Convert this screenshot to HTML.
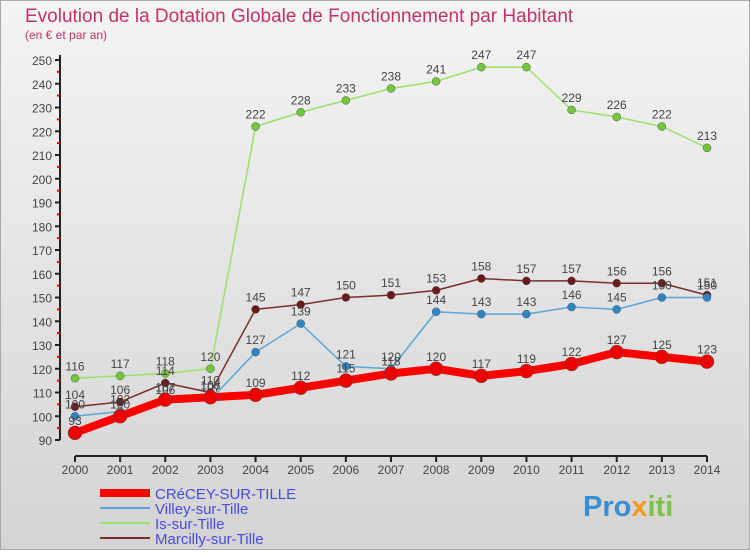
<!DOCTYPE html>
<html><head><meta charset="utf-8"><style>
body{margin:0;width:750px;height:550px;overflow:hidden;font-family:"Liberation Sans",sans-serif}
</style></head><body>
<svg width="750" height="550" xmlns="http://www.w3.org/2000/svg">
<defs><linearGradient id="bg" x1="0" y1="0" x2="0" y2="1"><stop offset="0" stop-color="#f4f4f4"/><stop offset="1" stop-color="#d4d4d4"/></linearGradient></defs>
<rect x="0.5" y="0.5" width="749" height="549" fill="url(#bg)" stroke="#aaa"/>
<text x="25" y="22" font-size="19" fill="#c2336b">Evolution de la Dotation Globale de Fonctionnement par Habitant</text>
<text x="25" y="39" font-size="12" fill="#c2336b">(en € et par an)</text>
<g id="axes"></g><g id="series"></g><g id="legend"></g>
<text x="583" y="516" font-size="29" font-weight="bold" fill="#3a8fd0">Pro<tspan fill="#f29a1e">x</tspan><tspan fill="#7dc242">iti</tspan></text>
</svg>
<script>
const years=[2000,2001,2002,2003,2004,2005,2006,2007,2008,2009,2010,2011,2012,2013,2014];
const crecey=[93,100,107,108,109,112,115,118,120,117,119,122,127,125,123];
const villey=[100,102,106,107,127,139,121,120,144,143,143,146,145,150,150];
const isSur=[116,117,118,120,222,228,233,238,241,247,247,229,226,222,213];
const marcilly=[104,106,114,110,145,147,150,151,153,158,157,157,156,156,151];
const yTicks=[90,100,110,120,130,140,150,160,170,180,190,200,210,220,230,240,250];
const NS="http://www.w3.org/2000/svg";
const X=y=>75+(y-2000)*(707-75)/14;
const Y=v=>440-(v-90)*380/160;
function mk(t,a,p){const e=document.createElementNS(NS,t);for(const k in a)e.setAttribute(k,a[k]);p.appendChild(e);return e;}
const ax=document.getElementById('axes');
let l=mk('line',{x1:60,y1:Y(250)-5,x2:60,y2:440,stroke:'#222','stroke-width':2},ax);


l=mk('line',{x1:75,y1:456,x2:707,y2:456,stroke:'#222','stroke-width':2},ax);


yTicks.forEach(v=>{
 mk('line',{x1:55,y1:Y(v),x2:60,y2:Y(v),stroke:'#222','stroke-width':2},ax);
 if(v<250)mk('line',{x1:57,y1:Y(v+5),x2:60,y2:Y(v+5),stroke:'#e00','stroke-width':2},ax);
 const t=mk('text',{x:52,y:Y(v)+5,'text-anchor':'end','font-size':12,fill:'#444'},ax);t.textContent=v;
 
 
});
years.forEach(y=>{
 mk('line',{x1:X(y),y1:456,x2:X(y),y2:462,stroke:'#222','stroke-width':2},ax);
 const t=mk('text',{x:X(y),y:474,'text-anchor':'middle','font-size':12,fill:'#444'},ax);t.textContent=y;
 
 
});
const sg=document.getElementById('series');
const defs=[
 {d:isSur,c:'#9be06a',dot:'#72c83a',w:1.5,r:4,n:'is-sur-tille'},
 {d:marcilly,c:'#7a2e2e',dot:'#6a1a1a',w:1.5,r:4,n:'marcilly-sur-tille'},
 {d:villey,c:'#5aa6d8',dot:'#2f86c6',w:1.5,r:4,n:'villey-sur-tille'},
 {d:crecey,c:'#ff0000',dot:'#ee0000',w:8,r:7,n:'crecey-sur-tille'}];
defs.forEach(s=>{
 const g=mk('g',{},sg);
 
 
 mk('polyline',{points:s.d.map((v,i)=>X(years[i])+','+Y(v)).join(' '),fill:'none',stroke:s.c,'stroke-width':s.w,'stroke-linejoin':'round'},g);
 s.d.forEach((v,i)=>{
  const c=mk('circle',{cx:X(years[i]),cy:Y(v),r:s.r,fill:s.dot,stroke:'#555','stroke-width':0.5},g);
  
  
  const t=mk('text',{x:X(years[i]),y:Y(v)-8,'text-anchor':'middle','font-size':12,fill:'#444'},g);t.textContent=v;
  
  
 });
});
const lg=document.getElementById('legend');
[['CRéCEY-SUR-TILLE','#ff0000',8],['Villey-sur-Tille','#5aa6d8',2],['Is-sur-Tille','#9be06a',2],['Marcilly-sur-Tille','#7a2e2e',2]].forEach((e,i)=>{
 const y=493+i*15;
 const g=mk('g',{},lg);
 
 
 mk('line',{x1:100,y1:y,x2:150,y2:y,stroke:e[1],'stroke-width':e[2]},g);
 const t=mk('text',{x:155,y:y+6,'font-size':15,fill:'#4a4ae0'},g);t.textContent=e[0];
});
</script>
</body></html>
